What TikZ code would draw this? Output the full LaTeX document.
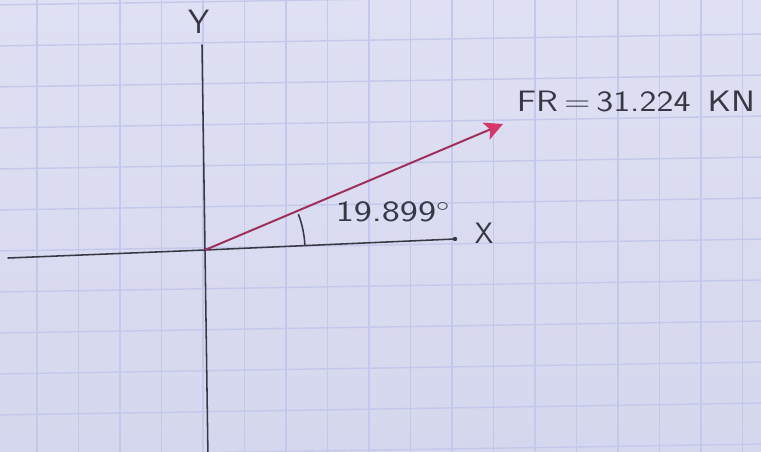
\documentclass[tikz,border=0pt]{standalone}
\usepackage{tikz}
\usepackage{graphicx}
\usetikzlibrary{arrows.meta}
\definecolor{paperBg}{HTML}{D5D7EE}
\definecolor{paperTop}{HTML}{DFE0F3}
\definecolor{paperGrid}{HTML}{C4C8EA}
\definecolor{inkGray}{HTML}{383845}
\definecolor{inkRed}{HTML}{9E2E5C}
\definecolor{inkPink}{HTML}{D6376B}

\begin{document}
\begin{tikzpicture}[x=0.025cm,y=-0.025cm,
    gridline/.style={paperGrid, line width=1pt},
    axis/.style={inkGray, line width=1.1pt, line cap=round},
    hand/.style={inkGray, font=\sffamily\fontsize{21}{21}\selectfont, inner sep=0pt}]
    \useasboundingbox (0,0) rectangle (761,452);
    \begin{scope}
    \clip (0,0) rectangle (761,452);
    \shade[top color=paperTop, bottom color=paperBg] (0,0) rectangle (761,452);
    \foreach \k in {0,...,11}
        \draw[gridline] (-5,{5+41*\k}) -- (766,{5+41*\k-12});
    \foreach \k in {0,...,17}
        \draw[gridline] ({37+41.5*\k},-5) -- ({37+41.5*\k},457);
    \end{scope}
    \coordinate (O)      at (205,250);
    \coordinate (ytop)   at (202,45);
    \coordinate (ybot)   at (208,460);
    \coordinate (xleft)  at (8,258);
    \coordinate (xright) at (455,239);
    \coordinate (tip)    at (503,124);
    \draw[axis] (ytop) -- (O) -- (ybot);
    \draw[axis] (xleft) -- (O) -- (xright);
    \fill[inkGray] (xright) circle (2.2);
    \draw[inkRed, line width=1.4pt, -{Stealth[length=13pt, width=13pt, inset=3pt, color=inkPink]}] (O) -- (tip);
    \draw[inkGray, line width=1.1pt] (O) ++(-2.5:100) arc[start angle=-2.5, end angle=-21, radius=100];
    \node[hand, font=\sffamily\fontsize{24}{24}\selectfont] (ylabel) at (199,22)  {Y};
    \node[hand] (xlabel)     at (484,233) {X};
    \node[hand] (anglelabel) at (393,212) {\scalebox{1.3}[1]{19.899$^{\circ}$}};
    \node[hand] (frlabel)    at (636,101) {\scalebox{1.22}[1]{FR\,=\,31.224 \,KN}};
\end{tikzpicture}
\end{document}
